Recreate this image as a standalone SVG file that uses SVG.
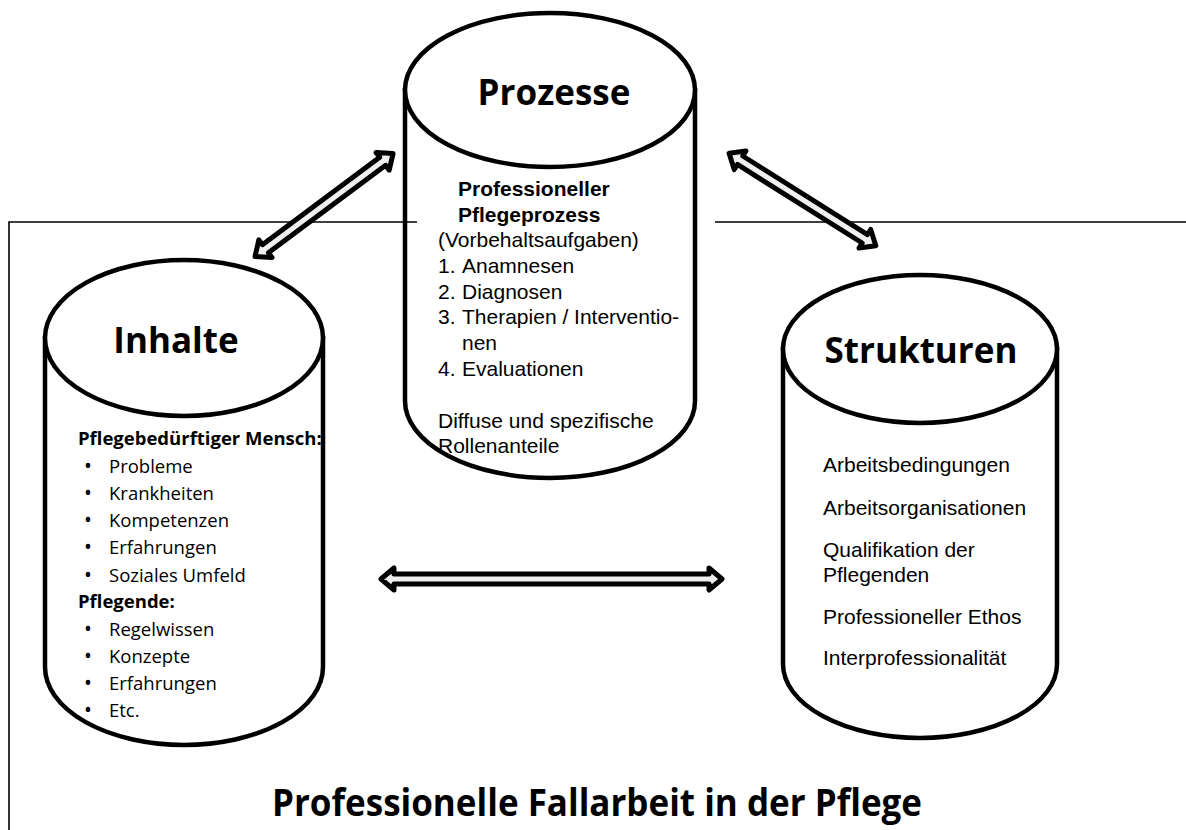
<svg xmlns="http://www.w3.org/2000/svg" width="1186" height="830" viewBox="0 0 1186 830">
<style>
.cyl{fill:#fff;stroke:#000;stroke-width:4.5}
.head{font-family:"Open Sans","Noto Sans",sans-serif;font-weight:700;font-size:35px;fill:#000}
.t{font-family:"Liberation Sans",Arial,sans-serif;font-size:21px;fill:#000}
.tb{font-family:"Liberation Sans",Arial,sans-serif;font-size:21px;font-weight:700;fill:#000}
.c{font-family:"Open Sans","Noto Sans",sans-serif;font-size:18.5px;fill:#000}
.cb{font-family:"Open Sans","Noto Sans",sans-serif;font-size:18.5px;font-weight:700;fill:#000}
.bul{font-size:21px}
.arrow{fill:#efefef;stroke:#000;stroke-width:5;stroke-linejoin:round}
.frame{fill:none;stroke:#000;stroke-width:1.6}
</style>

<g id="prozesse">
  <path class="cyl" d="M405,90 V401 A145,77 0 0 0 695,401 V90 Z"/>
  <ellipse class="cyl" cx="550" cy="90" rx="145" ry="77"/>
  <text class="head" x="554" y="105" text-anchor="middle">Prozesse</text>
  <text class="tb" x="458" y="196">Professioneller</text>
  <text class="tb" x="458" y="222">Pflegeprozess</text>
  <text class="t" x="438" y="247">(Vorbehaltsaufgaben)</text>
  <text class="t" y="273"><tspan x="438">1.</tspan><tspan x="462">Anamnesen</tspan></text>
  <text class="t" y="299"><tspan x="438">2.</tspan><tspan x="462">Diagnosen</tspan></text>
  <text class="t" y="324"><tspan x="438">3.</tspan><tspan x="462">Therapien / Interventio-</tspan></text>
  <text class="t" x="462" y="350">nen</text>
  <text class="t" y="376"><tspan x="438">4.</tspan><tspan x="462">Evaluationen</tspan></text>
  <text class="t" x="438" y="428">Diffuse und spezifische</text>
  <text class="t" x="438" y="453">Rollenanteile</text>
</g>

<g id="inhalte">
  <path class="cyl" d="M45,338 V667 A139,78 0 0 0 323,667 V338 Z"/>
  <ellipse class="cyl" cx="184" cy="338" rx="139" ry="78"/>
  <text class="head" x="176" y="353" text-anchor="middle">Inhalte</text>
  <text class="cb" x="78" y="445">Pflegebedürftiger Mensch:</text>
  <text class="c" y="473"><tspan class="bul" x="84">•</tspan><tspan x="109">Probleme</tspan></text>
  <text class="c" y="500"><tspan class="bul" x="84">•</tspan><tspan x="109">Krankheiten</tspan></text>
  <text class="c" y="527"><tspan class="bul" x="84">•</tspan><tspan x="109">Kompetenzen</tspan></text>
  <text class="c" y="554"><tspan class="bul" x="84">•</tspan><tspan x="109">Erfahrungen</tspan></text>
  <text class="c" y="582"><tspan class="bul" x="84">•</tspan><tspan x="109">Soziales Umfeld</tspan></text>
  <text class="cb" x="78" y="608">Pflegende:</text>
  <text class="c" y="636"><tspan class="bul" x="84">•</tspan><tspan x="109">Regelwissen</tspan></text>
  <text class="c" y="663"><tspan class="bul" x="84">•</tspan><tspan x="109">Konzepte</tspan></text>
  <text class="c" y="690"><tspan class="bul" x="84">•</tspan><tspan x="109">Erfahrungen</tspan></text>
  <text class="c" y="717"><tspan class="bul" x="84">•</tspan><tspan x="109">Etc.</tspan></text>
</g>

<g id="strukturen">
  <path class="cyl" d="M783,349 V664 A137,74 0 0 0 1057,664 V349 Z"/>
  <ellipse class="cyl" cx="920" cy="349" rx="137" ry="74"/>
  <text class="head" x="921" y="363" text-anchor="middle">Strukturen</text>
  <text class="t" x="823" y="472">Arbeitsbedingungen</text>
  <text class="t" x="823" y="515">Arbeitsorganisationen</text>
  <text class="t" x="823" y="557">Qualifikation der</text>
  <text class="t" x="823" y="582">Pflegenden</text>
  <text class="t" x="823" y="624">Professioneller Ethos</text>
  <text class="t" x="823" y="665">Interprofessionalität</text>
</g>

<g id="frame">
  <path class="frame" d="M9,830 V222 H417 M715,222 H1186"/>
  <text class="head" x="597" y="816" text-anchor="middle" textLength="650" lengthAdjust="spacingAndGlyphs" style="font-size:37px">Professionelle Fallarbeit in der Pflege</text>
</g>

<g id="connectors">
  <polygon class="arrow" transform="translate(255,256.5) rotate(-36.7)" points="0,0 13,-11 13,-5 159.2,-5 159.2,-11 172.2,0 159.2,11 159.2,5 13,5 13,11"/>
  <polygon class="arrow" transform="translate(729.1,153.3) rotate(32.2)" points="0,0 13,-11 13,-5 160.4,-5 160.4,-11 173.4,0 160.4,11 160.4,5 13,5 13,11"/>
  <polygon class="arrow" transform="translate(381,579)" points="0,0 13,-11 13,-5 328,-5 328,-11 341,0 328,11 328,5 13,5 13,11"/>
</g>
</svg>
